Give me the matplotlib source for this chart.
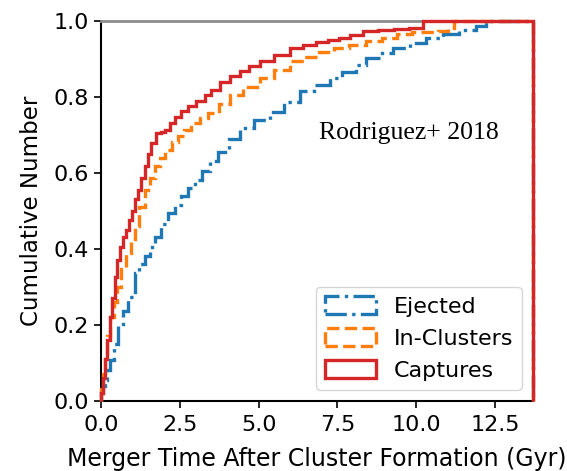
import numpy as np
import matplotlib
matplotlib.use("Agg")
import matplotlib.pyplot as plt
from matplotlib.patches import Patch

# cumulative fraction of mergers vs. time since cluster formation (Gyr)
t_max = 13.7

ejected_edges = [0, 0.06, 0.13, 0.2, 0.28, 0.4, 0.55, 0.7, 0.87, 1.08,
                 1.22, 1.39, 1.55, 1.71, 1.92, 2.13, 2.34, 2.55, 2.76, 2.97,
                 3.2, 3.45, 3.7, 4.05, 4.4, 4.85, 5.35, 5.8, 6.3, 6.75,
                 7.25, 7.65, 8.09, 8.41, 8.85, 9.25, 9.8, 10.3, 10.85, 11.36,
                 11.9, 12.2, t_max]
ejected_cdf = [0.02, 0.04, 0.055, 0.08, 0.108, 0.15, 0.196, 0.235, 0.274, 0.336,
               0.36, 0.38, 0.405, 0.432, 0.465, 0.494, 0.515, 0.538, 0.56, 0.582,
               0.605, 0.63, 0.655, 0.69, 0.717, 0.74, 0.761, 0.787, 0.814, 0.83,
               0.849, 0.866, 0.884, 0.902, 0.915, 0.928, 0.942, 0.954, 0.966, 0.976,
               0.985, 1.0]

incluster_edges = [0, 0.05, 0.12, 0.2, 0.3, 0.4, 0.5, 0.65, 0.8, 0.95,
                   1.08, 1.22, 1.39, 1.55, 1.71, 1.87, 2.03, 2.25, 2.45, 2.65,
                   2.87, 3.13, 3.4, 3.75, 4.08, 4.5, 5.03, 5.5, 5.98, 6.45,
                   6.93, 7.4, 7.88, 8.41, 8.9, 9.4, 9.87, 10.3, 10.7, 11.0,
                   11.2, t_max]
incluster_cdf = [0.03, 0.07, 0.12, 0.17, 0.22, 0.26, 0.30, 0.353, 0.39, 0.425,
                 0.459, 0.51, 0.555, 0.585, 0.617, 0.64, 0.66, 0.68, 0.696, 0.712,
                 0.73, 0.745, 0.757, 0.782, 0.805, 0.825, 0.849, 0.87, 0.893, 0.905,
                 0.919, 0.928, 0.937, 0.946, 0.955, 0.965, 0.97, 0.97, 0.972, 0.98,
                 1.0]

capture_edges = [0, 0.07, 0.13, 0.2, 0.28, 0.36, 0.44, 0.52, 0.6, 0.7,
                 0.81, 0.9, 0.97, 1.08, 1.18, 1.28, 1.39, 1.5, 1.6, 1.76,
                 1.9, 2.03, 2.18, 2.34, 2.55, 2.76, 3.0, 3.29, 3.5, 3.77,
                 4.1, 4.4, 4.7, 5.03, 5.5, 5.98, 6.4, 6.83, 7.2, 7.56,
                 7.9, 8.3, 8.8, 9.3, 9.78, 10.2, t_max]
capture_cdf = [0.02, 0.06, 0.11, 0.16, 0.22, 0.27, 0.327, 0.37, 0.406, 0.43,
               0.45, 0.475, 0.50, 0.53, 0.555, 0.585, 0.617, 0.65, 0.678, 0.704,
               0.708, 0.713, 0.73, 0.748, 0.762, 0.775, 0.788, 0.805, 0.818, 0.838,
               0.855, 0.867, 0.88, 0.893, 0.91, 0.928, 0.936, 0.945, 0.95, 0.954,
               0.962, 0.972, 0.976, 0.978, 0.98, 1.0]

labels = ["Ejected", "In-Clusters", "Captures"]
colors = ["#1f77b4", "#ff7f0e", "#d62728"]
styles = ["-.", "--", "-"]

plt.rcParams["font.size"] = 16

fig = plt.figure(figsize=(5.67, 4.71), dpi=100)
ax = fig.add_axes([0.178, 0.149, 0.762, 0.807])

series = [(ejected_cdf, ejected_edges), (incluster_cdf, incluster_edges),
          (capture_cdf, capture_edges)]
for (vals, edges), c, ls in zip(series, colors, styles):
    ax.stairs(vals, edges, baseline=0, color=c, linestyle=ls, lw=2.4,
              zorder=3, clip_on=False)

ax.set_xlim(0, t_max)
ax.set_ylim(0, 1.0)
ax.set_xticks(np.arange(0, 13, 2.5))
ax.set_yticks(np.arange(0, 1.01, 0.2))
ax.tick_params(labelsize=16, length=5, width=1.2)
ax.tick_params(axis="x", pad=5)
for side in ["left", "bottom"]:
    ax.spines[side].set_linewidth(1.5)
ax.spines["top"].set_color("0.55")
ax.spines["top"].set_linewidth(2)
ax.spines["right"].set_visible(False)

ax.set_xlabel("Merger Time After Cluster Formation (Gyr)", fontsize=17, labelpad=9)
ax.set_ylabel("Cumulative Number", fontsize=16.5, labelpad=8)

ax.text(0.712, 0.705, "Rodriguez+ 2018", transform=ax.transAxes,
        family="Liberation Serif", fontsize=18.5, ha="center", va="center")

handles = [Patch(facecolor="none", edgecolor=c, linestyle=ls, lw=2.4)
           for c, ls in zip(colors, styles)]
ax.legend(handles, labels, loc="lower right", fontsize=16,
          handlelength=2.3, handleheight=0.9, borderaxespad=0.5)

fig.savefig("out.png", dpi=100)
